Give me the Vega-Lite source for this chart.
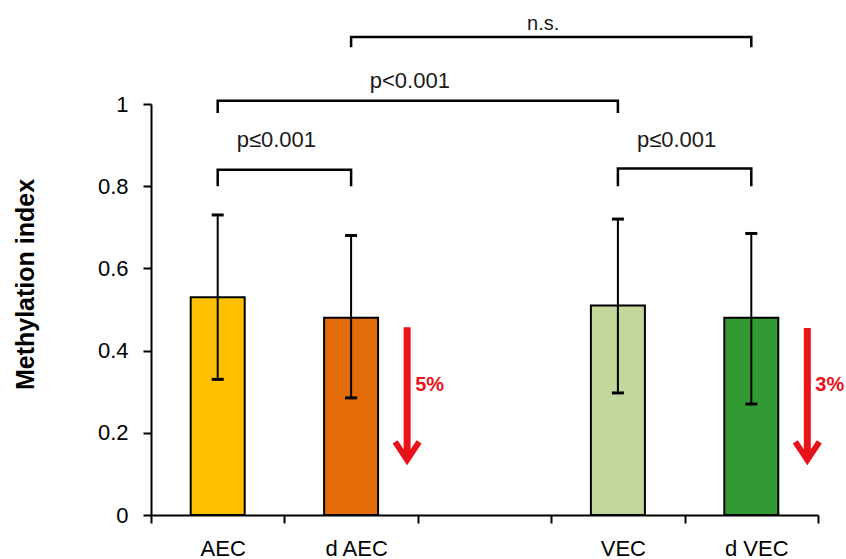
{
  "$schema": "https://vega.github.io/schema/vega-lite/v6.json",
  "width": 667,
  "height": 411,
  "autosize": {"type": "none"},
  "padding": {"left": 151, "top": 104, "right": 28, "bottom": 44},
  "background": "white",
  "config": {
    "view": {"stroke": null},
    "font": "Liberation Sans",
    "text": {"font": "Liberation Sans"},
    "axis": {
      "grid": false,
      "labelColor": "black",
      "labelFontSize": 22,
      "labelPadding": 15,
      "tickSize": 8,
      "tickWidth": 2,
      "tickColor": "black",
      "domainColor": "black",
      "domainWidth": 2
    }
  },
  "datasets": {
    "groups": [
      {"group": "AEC", "mean": 0.53, "lo": 0.33, "hi": 0.73},
      {"group": "d AEC", "mean": 0.48, "lo": 0.285, "hi": 0.68},
      {"group": "VEC", "mean": 0.51, "lo": 0.297, "hi": 0.72},
      {"group": "d VEC", "mean": 0.48, "lo": 0.27, "hi": 0.685}
    ],
    "bracketPath": [
      {"id": "a", "seq": 1, "at": "AEC", "y": 0.80},
      {"id": "a", "seq": 2, "at": "AEC", "y": 0.84},
      {"id": "a", "seq": 3, "at": "d AEC", "y": 0.84},
      {"id": "a", "seq": 4, "at": "d AEC", "y": 0.80},
      {"id": "v", "seq": 1, "at": "VEC", "y": 0.80},
      {"id": "v", "seq": 2, "at": "VEC", "y": 0.843},
      {"id": "v", "seq": 3, "at": "d VEC", "y": 0.843},
      {"id": "v", "seq": 4, "at": "d VEC", "y": 0.80},
      {"id": "av", "seq": 1, "at": "AEC", "y": 0.978},
      {"id": "av", "seq": 2, "at": "AEC", "y": 1.008},
      {"id": "av", "seq": 3, "at": "VEC", "y": 1.008},
      {"id": "av", "seq": 4, "at": "VEC", "y": 0.978},
      {"id": "dd", "seq": 1, "at": "d AEC", "y": 1.138},
      {"id": "dd", "seq": 2, "at": "d AEC", "y": 1.163},
      {"id": "dd", "seq": 3, "at": "d VEC", "y": 1.163},
      {"id": "dd", "seq": 4, "at": "d VEC", "y": 1.138}
    ],
    "bracketText": [
      {"at": "d AEC", "y": 0.895, "label": "p≤0.001", "size": 22},
      {"at": "d VEC", "y": 0.895, "label": "p≤0.001", "size": 22},
      {"at": "", "y": 1.039, "label": "p<0.001", "size": 22},
      {"at": "VEC", "y": 1.18, "label": "n.s.", "size": 20}
    ],
    "arrows": [
      {"group": "d AEC", "top": 0.457, "tip": 0.134, "textY": 0.302, "label": "5%"},
      {"group": "d VEC", "top": 0.455, "tip": 0.134, "textY": 0.302, "label": "3%"}
    ]
  },
  "layer": [
    {
      "data": {"name": "groups"},
      "mark": {"type": "bar", "width": 54, "stroke": "black", "strokeWidth": 2},
      "encoding": {
        "x": {
          "field": "group",
          "type": "nominal",
          "sort": null,
          "scale": {"type": "band", "domain": ["AEC", "d AEC", "", "VEC", "d VEC"], "paddingInner": 0, "paddingOuter": 0},
          "axis": {"title": null, "tickBand": "extent", "labelOffset": 5, "labelAngle": 0}
        },
        "y": {
          "field": "mean",
          "type": "quantitative",
          "scale": {"domain": [0, 1], "nice": false},
          "axis": {
            "title": "Methylation index",
            "values": [0, 0.2, 0.4, 0.6, 0.8, 1],
            "format": "~g",
            "titleFontSize": 25,
            "titleFontWeight": "bold",
            "titleColor": "black",
            "titleX": -126,
            "titleY": 180,
            "titleBaseline": "middle"
          }
        },
        "color": {
          "field": "group",
          "type": "nominal",
          "scale": {"domain": ["AEC", "d AEC", "VEC", "d VEC"], "range": ["#FFC000", "#E36C09", "#C3D69B", "#339933"]},
          "legend": null
        },
        "fillOpacity": {"value": 1}
      }
    },
    {
      "data": {"name": "groups"},
      "mark": {"type": "rule", "color": "black", "strokeWidth": 2},
      "encoding": {
        "x": {"field": "group", "type": "nominal"},
        "y": {"field": "lo", "type": "quantitative"},
        "y2": {"field": "hi"}
      }
    },
    {
      "data": {"name": "groups"},
      "mark": {"type": "tick", "color": "black", "size": 12, "thickness": 3, "opacity": 1},
      "encoding": {
        "x": {"field": "group", "type": "nominal"},
        "y": {"field": "lo", "type": "quantitative"}
      }
    },
    {
      "data": {"name": "groups"},
      "mark": {"type": "tick", "color": "black", "size": 12, "thickness": 3, "opacity": 1},
      "encoding": {
        "x": {"field": "group", "type": "nominal"},
        "y": {"field": "hi", "type": "quantitative"}
      }
    },
    {
      "data": {"name": "bracketPath"},
      "mark": {"type": "line", "color": "black", "strokeWidth": 2.5, "strokeJoin": "miter", "strokeCap": "butt"},
      "encoding": {
        "x": {"field": "at", "type": "nominal"},
        "y": {"field": "y", "type": "quantitative"},
        "detail": {"field": "id"},
        "order": {"field": "seq", "type": "quantitative"}
      }
    },
    {
      "data": {"name": "bracketText"},
      "mark": {"type": "text", "color": "#1a1a1a", "align": "center", "baseline": "alphabetic", "dx": -8},
      "encoding": {
        "x": {"field": "at", "type": "nominal", "bandPosition": 0},
        "y": {"field": "y", "type": "quantitative"},
        "text": {"field": "label"},
        "size": {"field": "size", "type": "quantitative", "scale": null, "legend": null}
      }
    },
    {
      "data": {"name": "arrows"},
      "mark": {"type": "rule", "color": "#E8121A", "strokeWidth": 7, "strokeCap": "butt"},
      "encoding": {
        "x": {"field": "group", "type": "nominal", "bandPosition": 0.92},
        "y": {"field": "top", "type": "quantitative"},
        "y2": {"field": "tip"}
      }
    },
    {
      "data": {"name": "arrows"},
      "mark": {"type": "point", "shape": "M-1.2,-1.8L0,0L1.2,-1.8", "filled": false, "color": "#E8121A", "strokeWidth": 6, "strokeJoin": "miter", "size": 400, "opacity": 1},
      "encoding": {
        "x": {"field": "group", "type": "nominal", "bandPosition": 0.92},
        "y": {"field": "tip", "type": "quantitative"}
      }
    },
    {
      "data": {"name": "arrows"},
      "mark": {"type": "text", "color": "#E8121A", "fontWeight": "bold", "fontSize": 20, "align": "left", "baseline": "alphabetic", "dx": 8},
      "encoding": {
        "x": {"field": "group", "type": "nominal", "bandPosition": 0.92},
        "y": {"field": "textY", "type": "quantitative"},
        "text": {"field": "label"}
      }
    }
  ]
}
